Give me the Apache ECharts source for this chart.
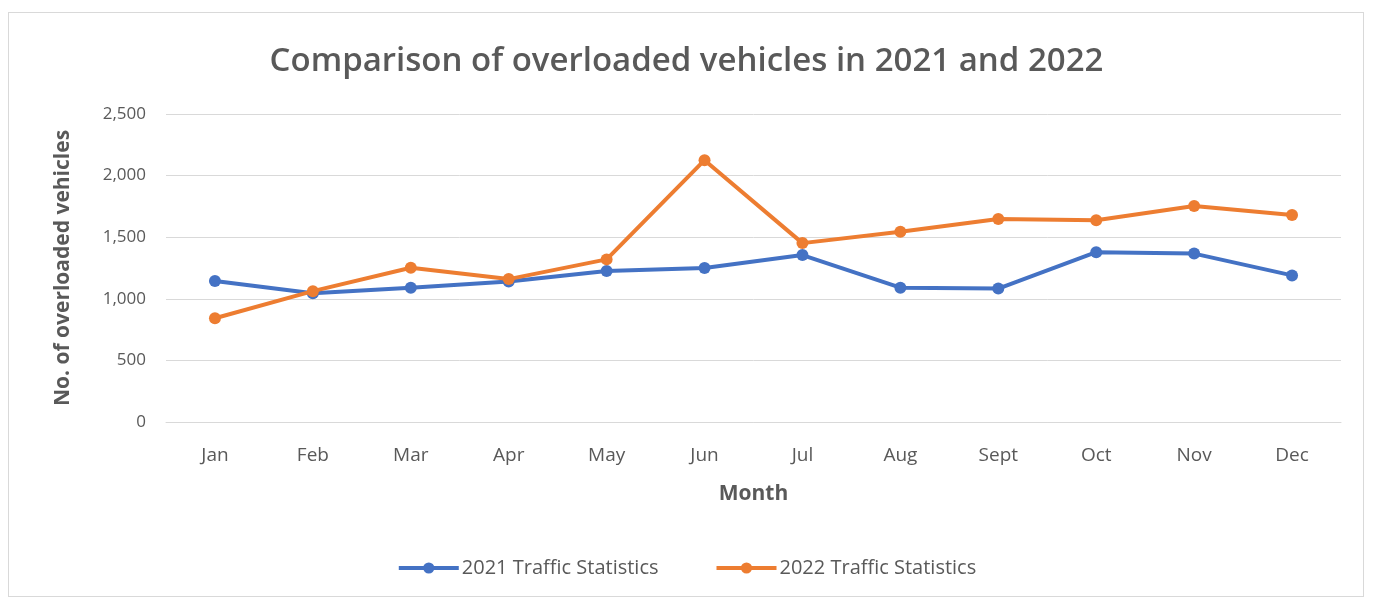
<!DOCTYPE html>
<html>
<head>
<meta charset="utf-8">
<script src="https://cdn.jsdelivr.net/npm/echarts@6/dist/echarts.min.js"></script>
<style>
  html, body { margin: 0; padding: 0; background: #ffffff; }
  #frame { position: absolute; left: 8px; top: 12px; width: 1356px; height: 585px; border: 1px solid #d9d9d9; box-sizing: border-box; }
  #chart { position: absolute; left: 0; top: 0; width: 1373px; height: 599px; }
</style>
</head>
<body>
<div id="frame"></div>
<div id="chart"></div>
<script>
// Monthly counts of overloaded vehicles
const months = ['Jan', 'Feb', 'Mar', 'Apr', 'May', 'Jun', 'Jul', 'Aug', 'Sept', 'Oct', 'Nov', 'Dec'];
const traffic2021 = [1145, 1045, 1090, 1140, 1225, 1250, 1355, 1090, 1083, 1378, 1367, 1190];
const traffic2022 = [842, 1062, 1252, 1160, 1320, 2125, 1452, 1545, 1648, 1637, 1754, 1680];
const yTicks = [0, 500, 1000, 1500, 2000, 2500];

const textColor = '#595959';
const fontFamily = '"Open Sans", "Noto Sans", sans-serif';

const chart = echarts.init(document.getElementById('chart'));

function lineSeries(name, data, color) {
  return {
    name: name,
    type: 'line',
    data: data,
    symbol: 'circle',
    symbolSize: 12,
    lineStyle: { color: color, width: 4 },
    itemStyle: { color: color },
    z: name.startsWith('2022') ? 3 : 2
  };
}

chart.setOption({
  backgroundColor: 'transparent',
  textStyle: { fontFamily: fontFamily },
  title: {
    text: 'Comparison of overloaded vehicles in 2021 and 2022',
    left: 'center',
    top: 40,
    textStyle: { color: textColor, fontSize: 33, fontWeight: 600, fontFamily: fontFamily }
  },
  legend: {
    bottom: 16,
    left: 'center',
    itemWidth: 60,
    itemHeight: 14,
    itemGap: 56,
    lineStyle: { width: 4 },
    textStyle: { color: textColor, fontSize: 20, fontFamily: fontFamily, padding: [0, 0, 0, -2] },
    data: ['2021 Traffic Statistics', '2022 Traffic Statistics']
  },
  grid: { left: 166, right: 32, top: 114, bottom: 177, containLabel: false },
  xAxis: {
    type: 'category',
    data: months,
    boundaryGap: true,
    axisLine: { show: true, lineStyle: { color: '#d9d9d9' } },
    axisTick: { show: false },
    axisLabel: { color: textColor, fontSize: 19, margin: 24, fontFamily: fontFamily },
    name: 'Month',
    nameLocation: 'middle',
    nameGap: 62,
    nameTextStyle: { color: textColor, fontSize: 21, fontWeight: 'bold', fontFamily: fontFamily }
  },
  yAxis: {
    type: 'value',
    min: yTicks[0],
    max: yTicks[yTicks.length - 1],
    interval: yTicks[1] - yTicks[0],
    axisLine: { show: false },
    axisTick: { show: false },
    splitLine: { lineStyle: { color: '#d9d9d9', width: 1 } },
    axisLabel: {
      color: textColor,
      fontSize: 17,
      margin: 20,
      fontFamily: fontFamily,
      formatter: function (v) { return v.toLocaleString('en-US'); }
    },
    name: 'No. of overloaded vehicles',
    nameLocation: 'middle',
    nameGap: 92,
    nameRotate: 90,
    nameTextStyle: { color: textColor, fontSize: 21, fontWeight: 'bold', fontFamily: fontFamily }
  },
  series: [
    lineSeries('2021 Traffic Statistics', traffic2021, '#4472C4'),
    lineSeries('2022 Traffic Statistics', traffic2022, '#ED7D31')
  ]
});
</script>
</body>
</html>
